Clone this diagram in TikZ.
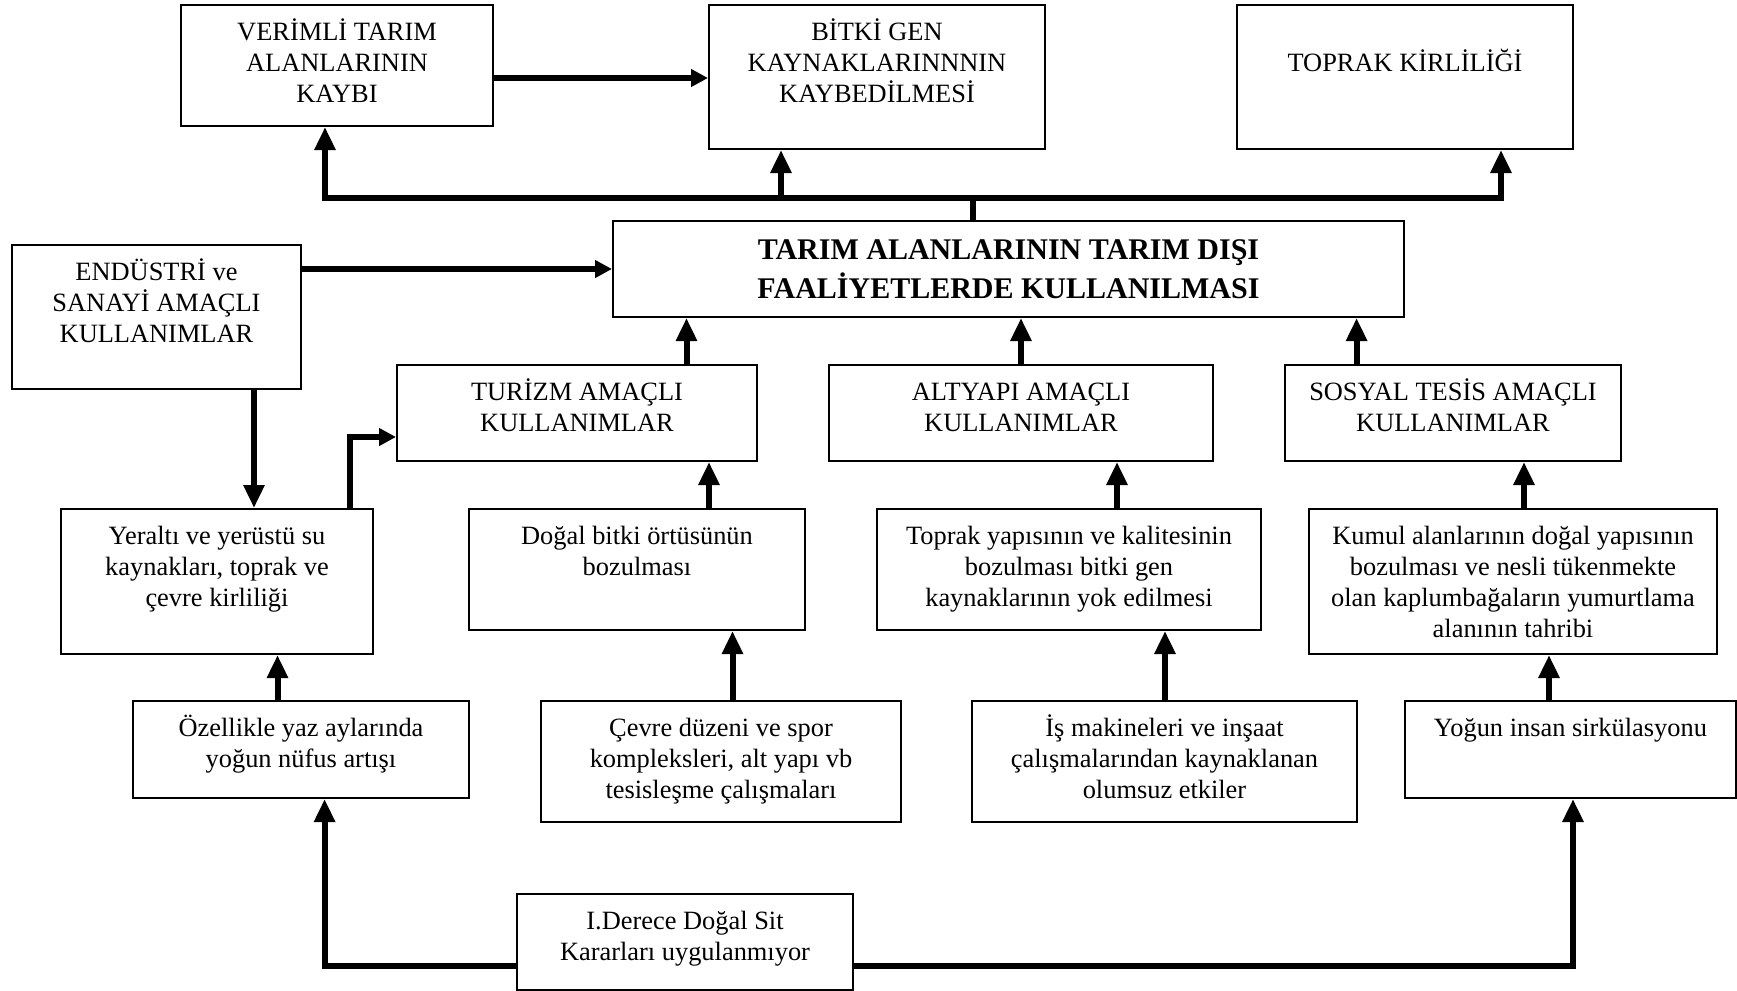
\documentclass[tikz,border=0pt]{standalone}
\usepackage{fontspec}
\setmainfont{Liberation Serif}
\usetikzlibrary{arrows.meta}
\tikzset{
  box/.style={draw, line width=1pt, inner sep=0pt},
  txt/.style={anchor=north, align=center, inner sep=0pt, font=\fontsize{13.2}{15.5}\selectfont},
  conn/.style={line width=3pt},
  vtip/.style={-{Triangle[length=11.5pt,width=10pt]}},
  htip/.style={-{Triangle[length=8.5pt,width=8.5pt]}},
}
% box from (x1,y1) to (x2,y2), in pixel units
\newcommand\mkbox[5]{\node[box, minimum width={(#4-#2)*0.5pt}, minimum height={(#5-#3)*0.5pt}] (#1) at ({(#2+#4)/2},{(#3+#5)/2}) {};}
% top-aligned text inside a box
\newcommand\mktext[3]{\node[txt] (#1-t) at ([yshift=#2]#1.north) {\rule{0pt}{12pt}#3};}
\begin{document}
\begin{tikzpicture}[x=0.5pt,y=-0.5pt]
\useasboundingbox (0,0) rectangle (1737,991);

% boxes
\mkbox{ver}{181}{5}{493}{126}
\mkbox{bitki}{709}{5}{1045}{149}
\mkbox{toprakk}{1237}{5}{1573}{149}
\mkbox{tarim}{613}{221}{1404}{317}
\mkbox{endus}{12}{245}{301}{389}
\mkbox{turizm}{397}{365}{757}{461}
\mkbox{altyapi}{829}{365}{1213}{461}
\mkbox{sosyal}{1285}{365}{1621}{461}
\mkbox{yeralti}{61}{509}{373}{654}
\mkbox{dogal}{469}{509}{805}{630}
\mkbox{topyap}{877}{509}{1261}{630}
\mkbox{kumul}{1309}{509}{1717}{654}
\mkbox{ozel}{133}{701}{469}{798}
\mkbox{cevre}{541}{701}{901}{822}
\mkbox{ismak}{972}{701}{1357}{822}
\mkbox{yogun}{1405}{701}{1736}{798}
\mkbox{derece}{517}{894}{853}{990}

% texts
\mktext{ver}{-6.25pt}{VERİMLİ TARIM\\ALANLARININ\\KAYBI}
\mktext{bitki}{-6.25pt}{BİTKİ GEN\\KAYNAKLARINNNIN\\KAYBEDİLMESİ}
\mktext{toprakk}{-21.5pt}{TOPRAK KİRLİLİĞİ}
\node[align=center, inner sep=0pt, font=\bfseries\fontsize{15}{19.5}\selectfont] (tarim-t) at (tarim)
  {TARIM ALANLARININ TARIM DIŞI\\FAALİYETLERDE KULLANILMASI};
\mktext{endus}{-6.25pt}{ENDÜSTRİ ve\\SANAYİ AMAÇLI\\KULLANIMLAR}
\mktext{turizm}{-6.25pt}{TURİZM AMAÇLI\\KULLANIMLAR}
\mktext{altyapi}{-6.25pt}{ALTYAPI AMAÇLI\\KULLANIMLAR}
\mktext{sosyal}{-6.25pt}{SOSYAL TESİS AMAÇLI\\KULLANIMLAR}
\mktext{yeralti}{-6.25pt}{Yeraltı ve yerüstü su\\kaynakları, toprak ve\\çevre kirliliği}
\mktext{dogal}{-6.25pt}{Doğal bitki örtüsünün\\bozulması}
\mktext{topyap}{-6.25pt}{Toprak yapısının ve kalitesinin\\bozulması bitki gen\\kaynaklarının yok edilmesi}
\mktext{kumul}{-6.25pt}{Kumul alanlarının doğal yapısının\\bozulması ve nesli tükenmekte\\olan kaplumbağaların yumurtlama\\alanının tahribi}
\mktext{ozel}{-6.25pt}{Özellikle yaz aylarında\\yoğun nüfus artışı}
\mktext{cevre}{-6.25pt}{Çevre düzeni ve spor\\kompleksleri, alt yapı vb\\tesisleşme çalışmaları}
\mktext{ismak}{-6.25pt}{İş makineleri ve inşaat\\çalışmalarından kaynaklanan\\olumsuz etkiler}
\mktext{yogun}{-6.25pt}{Yoğun insan sirkülasyonu}
\mktext{derece}{-6.25pt}{I.Derece Doğal Sit\\Kararları uygulanmıyor}

% guide coordinates for connector rows and columns
\coordinate (yA) at (0,78);
\coordinate (bus) at (0,197.5);
\coordinate (xL) at (325,0);
\coordinate (xM) at (781,0);
\coordinate (xR) at (1501,0);
\coordinate (xS) at (973,0);
\coordinate (xE) at (254,0);
\coordinate (elb) at (350,437);
\coordinate (by) at (0,966);
\coordinate (xB1) at (324.6,0);
\coordinate (xB2) at (1573,0);

% top row
\draw[conn,htip] (ver.east |- yA) -- (bitki.west |- yA);
\draw[conn] (xS |- tarim.north) -- (xS |- bus);
\draw[conn,vtip] (xS |- bus) -- (xL |- bus) -- (xL |- ver.south);
\draw[conn,vtip] (xS |- bus) -- (xR |- bus) -- (xR |- toprakk.south);
\draw[conn,vtip] (xM |- bus) -- (xM |- bitki.south);

% industrial uses
\draw[conn,htip] (endus.east |- tarim.west) -- (tarim.west);
\draw[conn,vtip] (xE |- endus.south) -- (xE |- yeralti.north);
\draw[conn,htip] (elb |- yeralti.north) -- (elb) -- (turizm.west |- elb);

% vertical links between stacked boxes
\foreach \xx/\from/\to in {686.5/turizm/tarim, 1021/altyapi/tarim, 1356.6/sosyal/tarim,
    709/dogal/turizm, 1117/topyap/altyapi, 1524/kumul/sosyal,
    277.5/ozel/yeralti, 732.5/cevre/dogal, 1165/ismak/topyap, 1549/yogun/kumul}{
  \path (\xx,0) coordinate (tmp);
  \draw[conn,vtip] (tmp |- \from.north) -- (tmp |- \to.south);
}

% bottom decision box
\draw[conn,vtip] (derece.west |- by) -- (xB1 |- by) -- (xB1 |- ozel.south);
\draw[conn,vtip] (derece.east |- by) -- (xB2 |- by) -- (xB2 |- yogun.south);
\end{tikzpicture}
\end{document}
